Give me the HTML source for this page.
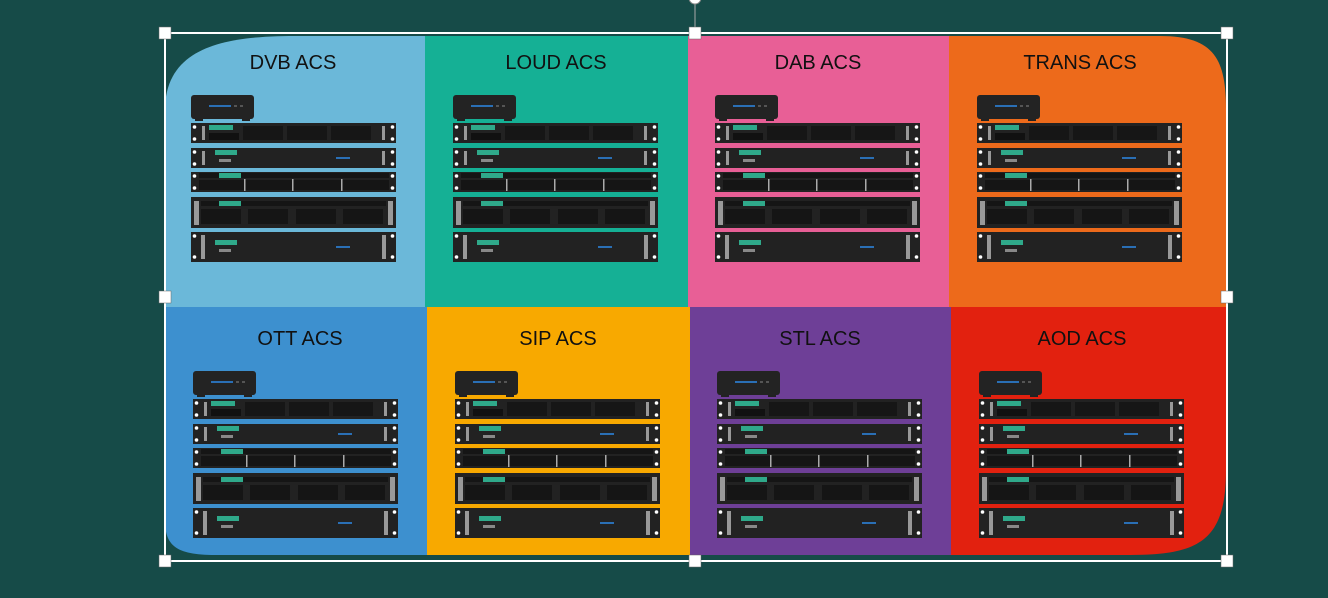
<!DOCTYPE html>
<html><head><meta charset="utf-8"><style>
html,body{margin:0;padding:0;background:#164b48;}
svg{display:block}
text{font-family:"Liberation Sans","DejaVu Sans",sans-serif;font-size:20px;fill:#111;text-anchor:middle}
</style></head><body>
<svg width="1328" height="598" viewBox="0 0 1328 598" xmlns="http://www.w3.org/2000/svg">
<defs>
<clipPath id="blob"><path d="M165,110 C165,40 240,36 300,36 L1160,36 C1215,36 1226,60 1226,110 L1226,470 C1226,540 1200,555 1130,555 L215,555 C175,555 165,545 165,520 Z"/></clipPath>
<g id="unitEars">
</g>
<g id="rack">
 <rect x="0" y="0" width="63" height="24" rx="3" fill="#232323"/>
 <rect x="4" y="24" width="8" height="2" fill="#222"/><rect x="51" y="24" width="8" height="2" fill="#222"/>
 <rect x="18" y="10" width="22" height="2" fill="#2a6fb5"/><rect x="43" y="10" width="3" height="2" fill="#555"/><rect x="49" y="10" width="3" height="2" fill="#555"/>
 <!-- unit1 -->
 <rect x="0" y="28" width="205" height="20" fill="#222"/>
 <rect x="11" y="31" width="3" height="14" fill="#999"/><rect x="191" y="31" width="3" height="14" fill="#999"/>
 <rect x="18" y="30" width="24" height="5" fill="#2fa98a"/>
 <rect x="18" y="38" width="30" height="7" fill="#111"/>
 <rect x="52" y="31" width="40" height="14" fill="#161616"/><rect x="96" y="31" width="40" height="14" fill="#161616"/><rect x="140" y="31" width="40" height="14" fill="#161616"/>
 <circle cx="3.5" cy="32" r="1.8" fill="#fff"/><circle cx="3.5" cy="44" r="1.8" fill="#fff"/><circle cx="201.5" cy="32" r="1.8" fill="#fff"/><circle cx="201.5" cy="44" r="1.8" fill="#fff"/>
 <!-- unit2 -->
 <rect x="0" y="53" width="205" height="20" fill="#222"/>
 <rect x="11" y="56" width="3" height="14" fill="#999"/><rect x="191" y="56" width="3" height="14" fill="#999"/>
 <rect x="24" y="55" width="22" height="5" fill="#2fa98a"/><rect x="28" y="64" width="12" height="3" fill="#888"/>
 <rect x="145" y="62" width="14" height="2" fill="#2a6fb5"/>
 <circle cx="3.5" cy="57" r="1.8" fill="#fff"/><circle cx="3.5" cy="69" r="1.8" fill="#fff"/><circle cx="201.5" cy="57" r="1.8" fill="#fff"/><circle cx="201.5" cy="69" r="1.8" fill="#fff"/>
 <!-- unit3 -->
 <rect x="0" y="77" width="205" height="20" fill="#222"/>
 <rect x="8" y="78" width="190" height="5" fill="#151515"/>
 <rect x="8" y="85" width="190" height="10" fill="#151515"/>
 <rect x="28" y="78" width="22" height="5" fill="#2fa98a"/>
 <rect x="53" y="84" width="1.5" height="12" fill="#aaa"/><rect x="101" y="84" width="1.5" height="12" fill="#aaa"/><rect x="150" y="84" width="1.5" height="12" fill="#aaa"/>
 <circle cx="3.5" cy="81" r="1.8" fill="#fff"/><circle cx="3.5" cy="93" r="1.8" fill="#fff"/><circle cx="201.5" cy="81" r="1.8" fill="#fff"/><circle cx="201.5" cy="93" r="1.8" fill="#fff"/>
 <!-- unit4 -->
 <rect x="0" y="102" width="205" height="31" fill="#222"/>
 <rect x="3" y="106" width="5" height="24" fill="#999"/><rect x="197" y="106" width="5" height="24" fill="#999"/>
 <rect x="10" y="106" width="185" height="5" fill="#151515"/>
 <rect x="10" y="114" width="40" height="15" fill="#151515"/><rect x="57" y="114" width="40" height="15" fill="#151515"/><rect x="105" y="114" width="40" height="15" fill="#151515"/><rect x="152" y="114" width="40" height="15" fill="#151515"/>
 <rect x="28" y="106" width="22" height="5" fill="#2fa98a"/>
 <!-- unit5 -->
 <rect x="0" y="137" width="205" height="30" fill="#222"/>
 <rect x="10" y="140" width="4" height="24" fill="#999"/><rect x="191" y="140" width="4" height="24" fill="#999"/>
 <rect x="24" y="145" width="22" height="5" fill="#2fa98a"/><rect x="28" y="154" width="12" height="3" fill="#888"/>
 <rect x="145" y="151" width="14" height="2" fill="#2a6fb5"/>
 <circle cx="3.5" cy="141" r="1.8" fill="#fff"/><circle cx="3.5" cy="162" r="1.8" fill="#fff"/><circle cx="201.5" cy="141" r="1.8" fill="#fff"/><circle cx="201.5" cy="162" r="1.8" fill="#fff"/>
</g>
</defs>
<g clip-path="url(#blob)">
 <rect x="165" y="30" width="261" height="278" fill="#6bb8d9"/>
 <rect x="425" y="30" width="264" height="278" fill="#15b095"/>
 <rect x="688" y="30" width="262" height="278" fill="#e85f96"/>
 <rect x="949" y="30" width="280" height="278" fill="#ed6a1b"/>
 <rect x="165" y="307" width="263" height="252" fill="#3d90cf"/>
 <rect x="427" y="307" width="264" height="252" fill="#f8a900"/>
 <rect x="690" y="307" width="262" height="252" fill="#6e3f97"/>
 <rect x="951" y="307" width="278" height="252" fill="#e2210f"/>
</g>
<text x="293" y="69">DVB ACS</text>
<text x="556" y="69">LOUD ACS</text>
<text x="818" y="69">DAB ACS</text>
<text x="1080" y="69">TRANS ACS</text>
<text x="300" y="345">OTT ACS</text>
<text x="558" y="345">SIP ACS</text>
<text x="820" y="345">STL ACS</text>
<text x="1082" y="345">AOD ACS</text>
<use href="#rack" x="191" y="95"/>
<use href="#rack" x="453" y="95"/>
<use href="#rack" x="715" y="95"/>
<use href="#rack" x="977" y="95"/>
<use href="#rack" x="193" y="371"/>
<use href="#rack" x="455" y="371"/>
<use href="#rack" x="717" y="371"/>
<use href="#rack" x="979" y="371"/>
<line x1="695" y1="0" x2="695" y2="33" stroke="#aaa" stroke-width="1"/>
<circle cx="695" cy="-2" r="6" fill="#fff" stroke="#888"/>
<rect x="165" y="33" width="1062" height="528" fill="none" stroke="#fff" stroke-width="2"/>
<g fill="#fff" stroke="#666" stroke-width="0.5">
<rect x="159" y="27" width="12" height="12"/><rect x="689" y="27" width="12" height="12"/><rect x="1221" y="27" width="12" height="12"/>
<rect x="159" y="291" width="12" height="12"/><rect x="1221" y="291" width="12" height="12"/>
<rect x="159" y="555" width="12" height="12"/><rect x="689" y="555" width="12" height="12"/><rect x="1221" y="555" width="12" height="12"/>
</g>
</svg>
</body></html>
